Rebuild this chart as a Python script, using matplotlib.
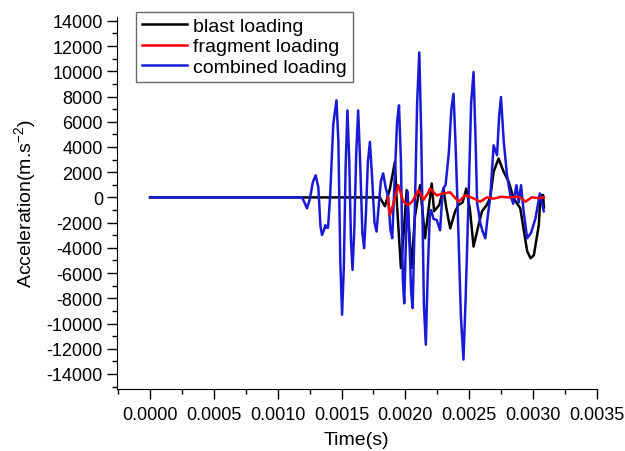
import matplotlib.pyplot as plt
import numpy as np

plt.rcParams['font.family'] = ['Liberation Sans', 'DejaVu Sans']
plt.rcParams['axes.unicode_minus'] = False
plt.rcParams['mathtext.default'] = 'regular'

# blast loading (black)
t_blast = [0.0, 0.0018, 0.00184, 0.001879, 0.001918, 0.001932, 0.001965, 0.001991,
           0.00201, 0.002028, 0.002048, 0.002075, 0.002115, 0.002154, 0.002206, 0.002225,
           0.002265, 0.002298, 0.00232, 0.002351, 0.00239, 0.002416, 0.002448, 0.002477,
           0.002505, 0.002534, 0.002573, 0.0026, 0.002638, 0.002665, 0.002691, 0.00273,
           0.00277, 0.002809, 0.002848, 0.0029, 0.002954, 0.00298, 0.003006, 0.003045,
           0.003058, 0.003079, 0.003085]
a_blast = [0, 0, -700, 700, 2820, -200, -5600, -2200,
           580, -2500, -5600, -1500, 970, -3240, 1100, -1100,
           -600, 700, -800, -2450, -1100, -600, -400, 700,
           -900, -3900, -2200, -1100, -600, 0, 2030, 3080,
           2030, 1240, -80, -870, -4270, -4820, -4600, -2190,
           180, 180, -800]

# fragment loading (red)
t_frag = [0.00186, 0.001879, 0.0019, 0.001944, 0.001984, 0.002024, 0.002055, 0.002103,
          0.002142, 0.00218, 0.002193, 0.002246, 0.002285, 0.002351, 0.002417, 0.00247,
          0.002534, 0.002586, 0.002638, 0.00269, 0.00275, 0.002806, 0.00286, 0.0029,
          0.00294, 0.00299, 0.00305, 0.003084]
a_frag = [0, -1400, -700, 970, -340, -600, -300, 580,
          -200, 400, 710, 150, 300, 400, -340, 180,
          -80, -340, 0, -100, 50, 0, 50, 0,
          -340, 0, -50, 0]

# combined loading (blue)
t_comb = [0.0, 0.00119, 0.001205, 0.001229, 0.00125, 0.001275, 0.001297, 0.001318,
          0.001335, 0.001347, 0.001362, 0.001372, 0.001381, 0.001394, 0.00141, 0.001435,
          0.00146, 0.001475, 0.00149, 0.001504, 0.001518, 0.001532, 0.001546, 0.00156,
          0.001574, 0.001586, 0.0016, 0.001615, 0.00163, 0.001645, 0.001663, 0.001677,
          0.00169, 0.001706, 0.001722, 0.001738, 0.001758, 0.001774, 0.00179, 0.001808,
          0.001826, 0.001845, 0.001866, 0.001882, 0.001897, 0.00191, 0.001935, 0.00195,
          0.001965, 0.00198, 0.001991, 0.002004, 0.002018, 0.002032, 0.002045, 0.002057,
          0.00207, 0.002092, 0.002109, 0.002124, 0.002145, 0.00216, 0.002175, 0.002192,
          0.002201, 0.00222, 0.002246, 0.002272, 0.002285, 0.002298, 0.002315, 0.00234,
          0.00236, 0.002377, 0.002392, 0.00241, 0.002435, 0.002455, 0.002472, 0.002495,
          0.002515, 0.002534, 0.00255, 0.002562, 0.002573, 0.002586, 0.002605, 0.002626,
          0.002645, 0.002665, 0.002691, 0.002718, 0.002735, 0.002749, 0.00277, 0.002796,
          0.002822, 0.002845, 0.00287, 0.002888, 0.002906, 0.002925, 0.00294, 0.002954,
          0.002985, 0.003019, 0.003053, 0.003084]
a_comb = [0, 0, -300, -870, -200, 1200, 1760, 800,
          -2300, -2980, -2600, -2200, -2400, -2400, 0, 5800,
          7700, 4500, -5000, -9300, -5500, 2500, 6900, 3000,
          -3500, -5750, -2500, 3500, 6900, 3000, -2800, -4030,
          -1500, 2800, 4400, 1800, -2000, -2710, -800, 1300,
          1900, 800, 0, -2500, -3240, 0, 6000, 7300,
          3000, -6500, -8400, -3500, 450, -3500, -7500, -8780,
          -3000, 7500, 11500, 5000, -8500, -11680, -6000, -1200,
          -1000, -1700, -1800, -2600, -500, 700, 1000, 3500,
          7000, 8220, 4500, -1000, -9500, -12860, -8000, 0,
          7500, 9940, 4500, -500, -1100, -2000, -2700, -3240,
          -1500, 0, 4130, 3340, 6500, 7960, 4500, 1760,
          180, -500, 970, -400, 970, -1000, -2190, -3240,
          -2800, -1660, 310, -1100]

fig = plt.figure(figsize=(6.25, 4.52), dpi=100)
ax = fig.add_axes([0.187, 0.137, 0.768, 0.823])

l1, = ax.plot(t_blast, a_blast, color='black', lw=1.8, label='blast loading')
l3, = ax.plot(t_comb, a_comb, color='#1a1ad6', lw=1.8, label='combined loading')
l2, = ax.plot(t_frag, a_frag, color='#ff0000', lw=1.8, label='fragment loading')

ax.set_xlim(-0.00026, 0.0035)
ax.set_ylim(-15200, 14300)
xt = np.arange(0, 0.0036, 0.0005)
ax.set_xticks(xt)
ax.set_xticklabels(['{:.4f}'.format(v) for v in xt])
ax.set_xticks(np.arange(-0.00025, 0.0035, 0.0005), minor=True)
ax.set_yticks(np.arange(-14000, 14001, 2000))
ax.set_yticks(np.arange(-15000, 14001, 1000), minor=True)
ax.tick_params(which='major', direction='out', length=7, width=1, labelsize=13, pad=3)
ax.tick_params(which='minor', direction='out', length=3.5, width=1)
ax.tick_params(axis='x', pad=5)

ax.spines['top'].set_visible(False)
ax.spines['right'].set_visible(False)

ax.set_xlabel('Time(s)', fontsize=14, labelpad=6)
ax.set_ylabel('Acceleration(m.s$^{-2}$)', fontsize=14, labelpad=6)

leg = ax.legend(handles=[l1, l2, l3], loc='upper left', bbox_to_anchor=(0.04, 1.015),
                fontsize=14, frameon=True, fancybox=False, edgecolor='#444444',
                handlelength=2.3, handletextpad=0.35, borderpad=0.3,
                labelspacing=0.15, borderaxespad=0.0)
leg.get_frame().set_linewidth(1.0)

fig.savefig('out.png', dpi=100)
